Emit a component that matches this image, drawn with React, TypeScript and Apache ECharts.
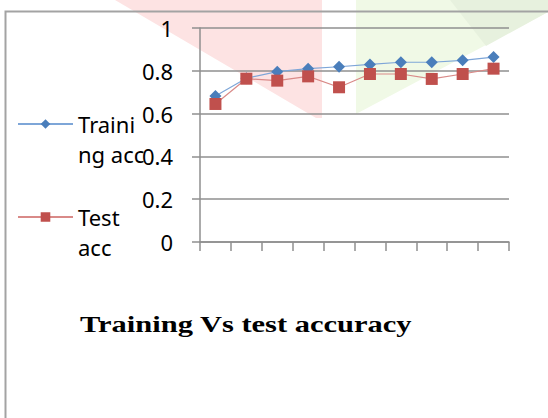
import React, { useEffect, useRef } from "react";
import * as echarts from "echarts";

const categories = ["1", "2", "3", "4", "5", "6", "7", "8", "9", "10"];
const trainingAcc = [0.682, 0.765, 0.796, 0.81, 0.819, 0.83, 0.84, 0.84, 0.849, 0.864];
const testAcc = [0.645, 0.763, 0.754, 0.774, 0.723, 0.785, 0.785, 0.762, 0.785, 0.81];
const seriesNames = ["Training acc", "Test acc"];
const legendLabels = ["\nTraini\nng acc", "\nTest\nacc"];
const titleText = "Training Vs test accuracy";

const SANS = "Noto Sans";
const GRIDC = "#8f8f8f";

export default function App() {
  const ref = useRef<HTMLDivElement>(null);
  useEffect(() => {
    if (!ref.current) return;
    const chart = echarts.init(ref.current, undefined, { renderer: "svg" });
    const legendCommon = {
      orient: "vertical" as const,
      itemWidth: 55,
      itemHeight: 12,
      itemGap: 0,
      padding: 0,
      textStyle: {
        fontFamily: SANS,
        fontSize: 22,
        color: "#000",
        lineHeight: 30,
      },
    };
    chart.setOption({
      animation: false,
      backgroundColor: "#fff",
      graphic: [
        {
          type: "polygon",
          z: -10,
          silent: true,
          shape: { points: [[115, 0], [322, 0], [322, 118], [316, 118]] },
          style: { fill: "#fde3e3" },
        },
        {
          type: "polygon",
          z: -10,
          silent: true,
          shape: { points: [[356, 0], [548, 0], [548, 12], [356, 114]] },
          style: { fill: "#f0f9e6" },
        },
        {
          type: "polygon",
          z: -9,
          silent: true,
          shape: { points: [[450, 0], [548, 0], [548, 12], [486, 46]] },
          style: { fill: "#e7f1de" },
        },
        {
          type: "polyline",
          z: 5,
          silent: true,
          shape: { points: [[5.5, 420], [5.5, 11.5], [550, 11.5]] },
          style: { stroke: "#a3a3a3", lineWidth: 2, fill: null },
        },
        {
          type: "text",
          x: 80,
          y: 312,
          scaleX: 1.27,
          silent: true,
          style: {
            text: titleText,
            fontFamily: "Liberation Serif",
            fontWeight: "bold",
            fontSize: 24,
            fill: "#000",
            verticalAlign: "top",
          },
        },
      ],
      legend: [
        { ...legendCommon, data: [seriesNames[0]], left: 17, top: 79, formatter: () => legendLabels[0] },
        { ...legendCommon, data: [seriesNames[1]], left: 17, top: 172, formatter: () => legendLabels[1] },
      ],
      grid: { left: 200, right: 39, top: 28, bottom: 176, containLabel: false },
      xAxis: {
        type: "category",
        data: categories,
        boundaryGap: true,
        axisLine: { lineStyle: { color: GRIDC, width: 1.5 } },
        axisTick: { show: true, length: 9, interval: 0, lineStyle: { color: GRIDC, width: 1.5 } },
        axisLabel: { show: false },
        splitLine: { show: false },
      },
      yAxis: {
        type: "value",
        min: 0,
        max: 1,
        interval: 0.2,
        axisLine: { show: true, lineStyle: { color: GRIDC, width: 1.5 } },
        axisTick: { show: true, length: 8, lineStyle: { color: GRIDC, width: 1.5 } },
        axisLabel: { margin: 27, fontFamily: SANS, fontSize: 22, color: "#000" },
        splitLine: { show: true, lineStyle: { color: GRIDC, width: 1.5 } },
      },
      series: [
        {
          name: seriesNames[0],
          type: "line",
          data: trainingAcc,
          symbol: "diamond",
          symbolSize: [12, 12],
          itemStyle: { color: "#4a7ebb" },
          lineStyle: { color: "#7ea6d8", width: 1.2 },
          z: 3,
        },
        {
          name: seriesNames[1],
          type: "line",
          data: testAcc,
          symbol: "rect",
          symbolSize: 12,
          itemStyle: { color: "#c0504d" },
          lineStyle: { color: "#d98a88", width: 1.2 },
          z: 4,
        },
      ],
    });
    return () => chart.dispose();
  }, []);
  return (
    <div
      ref={ref}
      style={{ position: "fixed", left: 0, top: 0, width: 548, height: 418 }}
    />
  );
}
